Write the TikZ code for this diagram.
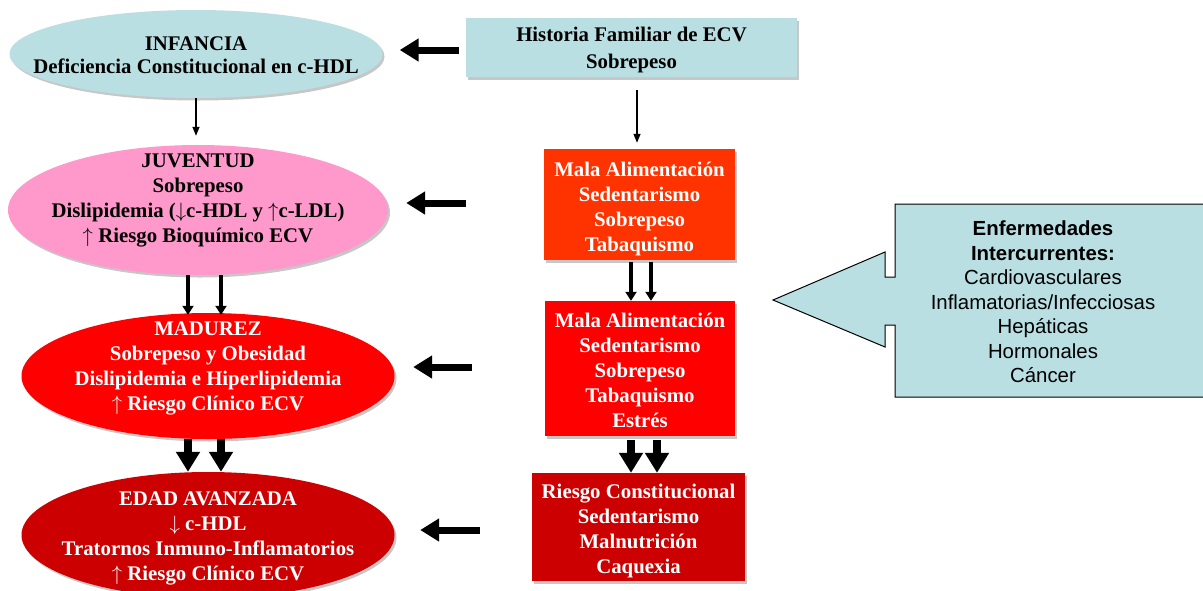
\documentclass[tikz,border=0pt]{standalone}
\usepackage{fontspec}
\setmainfont{Liberation Serif}
\newfontfamily\arialf{Liberation Sans}
\usetikzlibrary{arrows.meta,shadows,shapes.geometric,calc}
\definecolor{lblue}{HTML}{B9DFE3}
\definecolor{pinkc}{HTML}{FF99CC}
\definecolor{orangec}{HTML}{FF3300}
\definecolor{redc}{HTML}{FF0000}
\definecolor{dredc}{HTML}{CC0000}
\newcommand{\ua}{$\uparrow$}
\newcommand{\da}{$\downarrow$}
\begin{document}
\begin{tikzpicture}[x=1pt,y=-1pt,
  shad/.style={drop shadow={shadow xshift=2pt,shadow yshift=-2.5pt,fill=black,opacity=0.22}},
  ell/.style={ellipse,draw=none,inner sep=0pt,shad},
  txt/.style={align=center,inner sep=0pt,font=\bfseries\fontsize{20.8}{25}\selectfont},
  boxc/.style={rectangle,draw=none,inner sep=0pt,shad},
  thinarr/.style={-{Triangle[length=9pt,width=7pt]},line width=1.3pt},
  medarr/.style={-{Triangle[length=9pt,width=11pt]},line width=3.5pt},
  bigarr/.style={-{Triangle[length=20pt,width=23pt]},line width=8pt},
  leftarr/.style={-{Triangle[length=19pt,width=22pt]},line width=7pt}]
\useasboundingbox (0,0) rectangle (1203,590);
\fill[white] (0,0) rectangle (1203,590);

% left column ellipses
\node[ell,fill=lblue,minimum width=373pt,minimum height=88pt] (inf) at (196,54) {};
\node[txt] (inft) at (196,55) {INFANCIA\\[-2pt]Deficiencia Constitucional en c-HDL};
\node[ell,fill=pinkc,minimum width=380pt,minimum height=130pt] (juv) at (198,210) {};
\node[txt] (juvt) at (198,200.5) {JUVENTUD\\Sobrepeso\\Dislipidemia (\da c-HDL y \ua c-LDL)\\\ua\ Riesgo Bioquímico ECV};
\node[ell,fill=redc,minimum width=373pt,minimum height=126pt] (mad) at (208,376) {};
\node[txt,text=white] (madt) at (208,368) {MADUREZ\\Sobrepeso y Obesidad\\Dislipidemia e Hiperlipidemia\\\ua\ Riesgo Clínico ECV};
\node[ell,fill=dredc,minimum width=373pt,minimum height=126pt] (eda) at (208,535) {};
\node[txt,text=white] (edat) at (208,538.5) {EDAD AVANZADA\\\da\ c-HDL\\Tratornos Inmuno-Inflamatorios\\\ua\ Riesgo Clínico ECV};

% middle column boxes
\node[boxc,fill=lblue,minimum width=331pt,minimum height=59pt] (hist) at (631.5,47.5) {};
\node[txt] (histt) at (631.5,50) {Historia Familiar de ECV\\[2pt]Sobrepeso};
\node[boxc,fill=orangec,minimum width=191pt,minimum height=111pt] (b1) at (639.5,204.5) {};
\node[txt,text=white] (b1t) at (639.5,208.5) {Mala Alimentación\\Sedentarismo\\Sobrepeso\\Tabaquismo};
\node[boxc,fill=redc,minimum width=190pt,minimum height=135pt] (b2) at (640,368.5) {};
\node[txt,text=white] (b2t) at (640,370.5) {Mala Alimentación\\Sedentarismo\\Sobrepeso\\Tabaquismo\\Estrés};
\node[boxc,fill=dredc,minimum width=213pt,minimum height=108pt] (b3) at (638.5,527) {};
\node[txt,text=white] (b3t) at (638.5,531) {Riesgo Constitucional\\Sedentarismo\\Malnutrición\\Caquexia};

% callout
\draw[fill=lblue,line width=1pt] (1208,204) -- (895,204) -- (895,277) -- (885,277) -- (885,252) -- (773,300) -- (885,347) -- (885,325) -- (895,325) -- (895,397) -- (1208,397) -- cycle;
\node[align=center,inner sep=0pt,font=\arialf\fontsize{20.4}{24.5}\selectfont] (enf) at (1043,302) {\textbf{Enfermedades}\\\textbf{Intercurrentes:}\\Cardiovasculares\\Inflamatorias/Infecciosas\\Hepáticas\\Hormonales\\Cáncer};

% row coordinates
\coordinate (r1) at (0,50);
\coordinate (r2) at (0,203);
\coordinate (r3) at (0,367);
\coordinate (r4) at (0,530);

% left arrows
\draw[leftarr,shorten <=7pt,shorten >=17pt] (hist.west |- r1) -- (inf.east |- r1);
\draw[leftarr,shorten <=78pt,shorten >=18pt] (b1.west |- r2) -- (juv.east |- r2);
\draw[leftarr,shorten <=73pt,shorten >=18.5pt] (b2.west |- r3) -- (mad.east |- r3);
\draw[leftarr,shorten <=52pt,shorten >=25.5pt] (b3.west |- r4) -- (eda.east |- r4);

% down arrows left column
\draw[thinarr,shorten >=9pt] (inf.south) -- (inf.south |- juv.north);
\draw[medarr] ($(juv.south)+(-10,0)$) -- ($(juv.south |- mad.north)+(-10,2)$);
\draw[medarr] ($(juv.south)+(23,0)$) -- ($(juv.south |- mad.north)+(23,2)$);
\draw[bigarr] ($(mad.south)+(-20,0)$) -- ($(mad.south |- eda.north)+(-20,0)$);
\draw[bigarr] ($(mad.south)+(13,0)$) -- ($(mad.south |- eda.north)+(13,0)$);

% down arrows middle column
\draw[thinarr,shorten <=13pt,shorten >=6pt] ($(hist.south)+(5.5,0)$) -- ($(hist.south |- b1.north)+(5.5,0)$);
\draw[medarr,shorten <=2pt] ($(b1.south)+(-8.5,0)$) -- ($(b1.south |- b2.north)+(-8.5,0)$);
\draw[medarr,shorten <=2pt] ($(b1.south)+(11.5,0)$) -- ($(b1.south |- b2.north)+(11.5,0)$);
\draw[bigarr,shorten <=4pt] ($(b2.south)+(-9,0)$) -- ($(b2.south |- b3.north)+(-9,0)$);
\draw[bigarr,shorten <=4pt] ($(b2.south)+(17,0)$) -- ($(b2.south |- b3.north)+(17,0)$);
\end{tikzpicture}
\end{document}
